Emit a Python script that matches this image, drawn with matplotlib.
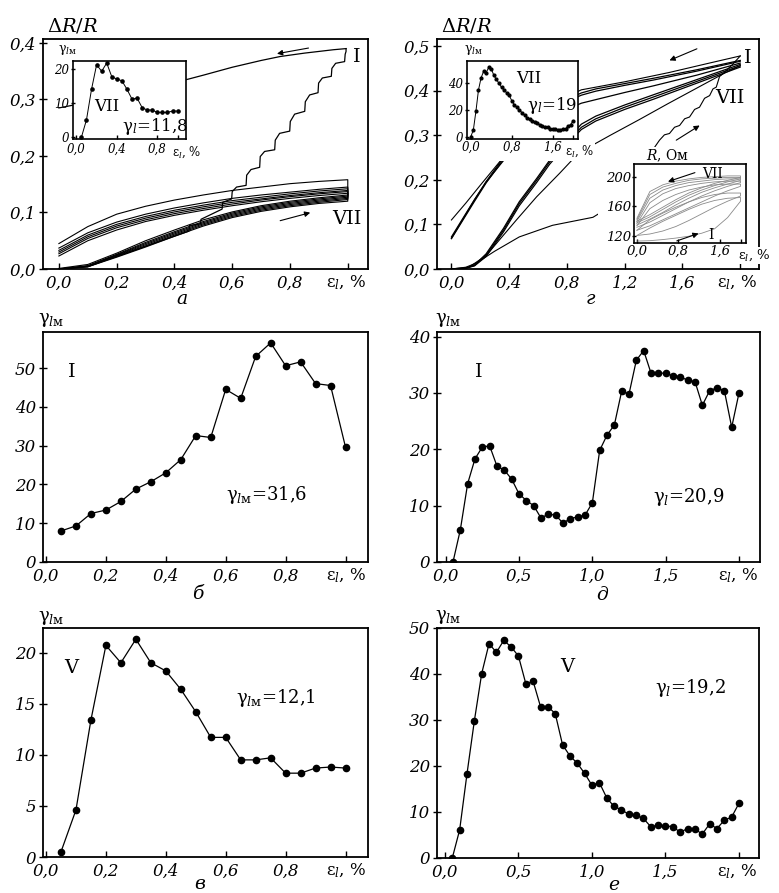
import matplotlib
matplotlib.use('Agg')
import matplotlib.pyplot as plt
from matplotlib.patches import Rectangle

plt.rcParams['font.family'] = ['DejaVu Serif']
plt.rcParams['mathtext.fontset'] = 'dejavuserif'

# ---------------- data ----------------
# strain steps, %
strain_1 = [0.05, 0.10, 0.15, 0.20, 0.25, 0.30, 0.35, 0.40, 0.45, 0.50,
            0.55, 0.60, 0.65, 0.70, 0.75, 0.80, 0.85, 0.90, 0.95, 1.00]
strain_2 = [0.05, 0.10, 0.15, 0.20, 0.25, 0.30, 0.35, 0.40, 0.45, 0.50,
            0.55, 0.60, 0.65, 0.70, 0.75, 0.80, 0.85, 0.90, 0.95, 1.00,
            1.05, 1.10, 1.15, 1.20, 1.25, 1.30, 1.35, 1.40, 1.45, 1.50,
            1.55, 1.60, 1.65, 1.70, 1.75, 1.80, 1.85, 1.90, 1.95, 2.00]

# б: cycle I, max strain 1 %
gamma_b = [8.0, 9.3, 12.5, 13.4, 15.6, 18.8, 20.7, 23.0, 26.4, 32.6,
           32.1, 44.5, 42.2, 53.0, 56.5, 50.6, 51.6, 46.0, 45.5, 29.6]
# в: cycle V, max strain 1 %
gamma_v = [0.5, 4.6, 13.4, 20.7, 19.0, 21.3, 19.0, 18.2, 16.4, 14.2,
           11.7, 11.7, 9.5, 9.5, 9.7, 8.2, 8.2, 8.7, 8.8, 8.7]
# inset of а: cycle VII, max strain 1 %
gamma_a_ins = [0.0, 5.1, 14.1, 21.3, 19.4, 21.8, 17.8, 17.1, 16.6, 14.1,
               11.2, 11.5, 8.7, 8.0, 8.0, 7.3, 7.3, 7.3, 7.7, 7.7]
# д: cycle I, max strain 2 %
gamma_d = [0.0, 5.7, 13.9, 18.3, 20.4, 20.6, 17.0, 16.3, 14.7, 12.1,
           10.9, 10.0, 7.8, 8.5, 8.3, 6.9, 7.7, 8.0, 8.3, 10.5,
           19.8, 22.5, 24.3, 30.3, 29.8, 35.8, 37.5, 33.5, 33.5, 33.5,
           33.0, 32.9, 32.2, 32.0, 27.8, 30.4, 30.9, 30.4, 23.9, 30.0]
# е: cycle V, max strain 2 %
gamma_e = [0.0, 6.1, 18.3, 29.8, 40.1, 46.6, 44.7, 47.3, 45.9, 43.9,
           37.9, 38.4, 32.9, 32.9, 31.4, 24.6, 22.2, 20.6, 18.4, 15.8,
           16.4, 13.1, 11.2, 10.5, 9.5, 9.3, 8.6, 6.8, 7.1, 7.0,
           6.8, 5.6, 6.4, 6.3, 5.2, 7.4, 6.4, 8.2, 8.9, 11.9]
# inset of г: cycle VII, max strain 2 %
strain_g_ins = [0.0] + strain_2
gamma_g_ins = [0, 5, 19, 35, 44, 49, 48, 52, 51, 46, 43, 40, 37, 35, 33, 31, 27,
               24, 22, 20, 18, 16, 14, 13, 12, 11, 10, 9, 8, 7, 7, 6, 6, 6, 5,
               5, 6, 6, 8, 9, 12]

# а: dR/R loops, max strain 1 %
xa = [0.0, 0.1, 0.2, 0.3, 0.4, 0.5, 0.6, 0.7, 0.8, 0.9, 1.0]
a_load = [
    [0.000, 0.004, 0.022, 0.040, 0.058, 0.076, 0.091, 0.102, 0.110, 0.116, 0.120],
    [0.000, 0.004, 0.023, 0.041, 0.060, 0.078, 0.093, 0.104, 0.112, 0.118, 0.123],
    [0.000, 0.005, 0.024, 0.043, 0.062, 0.080, 0.095, 0.106, 0.114, 0.120, 0.125],
    [0.000, 0.005, 0.025, 0.045, 0.064, 0.082, 0.097, 0.108, 0.116, 0.122, 0.127],
    [0.000, 0.006, 0.026, 0.047, 0.066, 0.084, 0.099, 0.110, 0.118, 0.124, 0.129],
    [0.001, 0.008, 0.028, 0.050, 0.069, 0.087, 0.101, 0.112, 0.120, 0.126, 0.131],
]
a_unload = [
    [0.045, 0.075, 0.097, 0.111, 0.122, 0.131, 0.139, 0.145, 0.151, 0.155, 0.158],
    [0.037, 0.064, 0.083, 0.097, 0.108, 0.117, 0.125, 0.131, 0.136, 0.141, 0.145],
    [0.033, 0.060, 0.079, 0.093, 0.104, 0.113, 0.121, 0.127, 0.133, 0.138, 0.142],
    [0.030, 0.057, 0.076, 0.090, 0.101, 0.110, 0.118, 0.124, 0.130, 0.135, 0.139],
    [0.027, 0.054, 0.073, 0.087, 0.098, 0.107, 0.115, 0.122, 0.128, 0.133, 0.137],
    [0.023, 0.050, 0.069, 0.084, 0.095, 0.104, 0.112, 0.119, 0.125, 0.130, 0.134],
]
aI_load_x = [0.0, 0.1, 0.2, 0.3, 0.4, 0.45, 0.452, 0.49, 0.492, 0.565, 0.567, 0.598, 0.600,
             0.615, 0.648, 0.650, 0.665, 0.695, 0.697, 0.712, 0.747, 0.749, 0.764, 0.799,
             0.801, 0.816, 0.851, 0.853, 0.868, 0.897, 0.899, 0.912, 0.943, 0.945, 0.958,
             0.989, 0.991, 0.994, 0.994]
aI_load_y = [0.0, 0.004, 0.021, 0.039, 0.058, 0.067, 0.077, 0.080, 0.088, 0.106, 0.118, 0.124, 0.137,
             0.145, 0.148, 0.166, 0.176, 0.180, 0.199, 0.208, 0.211, 0.228, 0.240, 0.244,
             0.261, 0.274, 0.279, 0.296, 0.308, 0.312, 0.329, 0.338, 0.341, 0.355, 0.364,
             0.367, 0.380, 0.385, 0.390]
aI_unload_x = [0.994, 0.95, 0.90, 0.85, 0.766, 0.70, 0.60, 0.50, 0.448, 0.30, 0.15, 0.0]
aI_unload_y = [0.390, 0.388, 0.385, 0.382, 0.376, 0.369, 0.357, 0.343, 0.336, 0.318, 0.300, 0.285]

# г: dR/R loops, max strain 2 %
xg = [0.0, 0.08, 0.16, 0.24, 0.36, 0.47, 0.59, 0.68, 0.80, 0.90, 1.00, 1.20, 1.40, 1.70, 2.00]
g_load = [
    [0.0, 0.0, 0.008, 0.031, 0.087, 0.147, 0.199, 0.240, 0.285, 0.318, 0.337, 0.363, 0.386, 0.421, 0.456],
    [0.0, 0.0, 0.007, 0.028, 0.083, 0.142, 0.194, 0.235, 0.280, 0.313, 0.332, 0.358, 0.381, 0.417, 0.453],
    [0.0, 0.0, 0.009, 0.034, 0.091, 0.151, 0.203, 0.244, 0.290, 0.325, 0.343, 0.368, 0.391, 0.425, 0.459],
]
g_unload = [
    [0.069, 0.112, 0.155, 0.196, 0.250, 0.292, 0.332, 0.355, 0.380, 0.395, 0.404, 0.416, 0.428, 0.447, 0.468],
    [0.068, 0.110, 0.152, 0.193, 0.246, 0.288, 0.328, 0.351, 0.376, 0.390, 0.399, 0.412, 0.424, 0.444, 0.466],
    [0.072, 0.114, 0.156, 0.195, 0.243, 0.280, 0.316, 0.337, 0.358, 0.372, 0.380, 0.396, 0.411, 0.435, 0.462],
]
gI_load_x = [0.0, 0.1, 0.17, 0.3, 0.47, 0.7, 0.98, 1.1, 1.25, 1.441, 1.475, 1.51, 1.545, 1.58,
             1.615, 1.649, 1.684, 1.718, 1.753, 1.788, 1.811, 1.834, 1.857, 1.88, 1.95, 2.0]
gI_load_y = [0.0, 0.004, 0.013, 0.040, 0.072, 0.098, 0.116, 0.14, 0.20, 0.289, 0.301, 0.304, 0.318, 0.322,
             0.337, 0.341, 0.358, 0.363, 0.383, 0.389, 0.404, 0.408, 0.432, 0.438, 0.46, 0.478]
gI_unload_x = [2.0, 1.8, 1.51, 1.2, 0.9, 0.7, 0.5, 0.34, 0.2, 0.1, 0.0]
gI_unload_y = [0.478, 0.463, 0.441, 0.420, 0.402, 0.372, 0.322, 0.243, 0.188, 0.148, 0.110]
gII_load_x = [0.0, 0.12, 0.24, 0.35, 0.45, 0.59, 0.75, 0.866, 0.956, 1.1, 1.3, 1.5, 1.7, 1.9, 2.0]
gII_load_y = [0.0, 0.004, 0.030, 0.072, 0.110, 0.162, 0.215, 0.255, 0.274, 0.300, 0.335, 0.371, 0.406, 0.441, 0.456]

# inset of г: R, Ohm loops (cycles I..VII)
xr = [0.0, 0.25, 0.5, 0.75, 1.0, 1.25, 1.5, 1.75, 2.0]
r_load = [
    [113.5, 114, 115.5, 117.5, 120, 124, 130, 145, 167],
    [121, 123, 127, 133, 141, 150, 159, 167, 174],
    [128, 134, 142, 150, 158, 166, 174, 181, 187],
    [132, 139, 148, 157, 166, 174, 181, 187, 192],
    [135, 143, 152, 162, 171, 179, 185, 190, 195],
    [138, 146, 156, 166, 175, 182, 188, 193, 197],
    [140, 149, 159, 169, 178, 185, 191, 195, 199],
]
r_unload = [  # listed from strain 0 to 2
    [121, 131, 140, 148, 156, 163, 168, 171, 172],
    [128, 142, 151, 159, 166, 172, 176, 178, 178],
    [134, 157, 168, 176, 182, 186, 189, 190, 190],
    [137, 165, 177, 184, 188, 191, 193, 194, 194],
    [140, 171, 182, 188, 192, 194, 196, 197, 197],
    [142, 176, 186, 191, 195, 197, 198, 199, 199],
    [144, 180, 189, 194, 197, 199, 200, 201, 201],
]

# ---------------- figure ----------------
W, H = 779, 893
fig = plt.figure(figsize=(W / 100, H / 100), dpi=100)


def px_rect(left, top, right, bottom):
    return [left / W, 1 - bottom / H, (right - left) / W, (bottom - top) / H]


def white_box(left, top, right, bottom):
    fig.add_artist(Rectangle((left / W, 1 - bottom / H), (right - left) / W, (bottom - top) / H,
                             transform=fig.transFigure, facecolor='white', edgecolor='none',
                             zorder=4))


def style(ax, xlim, ylim, xt, xl, yt, yl, size=12, xpad=4, ypad=2, lw=1.3):
    ax.set_xlim(*xlim)
    ax.set_ylim(*ylim)
    ax.set_xticks(xt)
    ax.set_xticklabels(xl, fontstyle='italic', fontsize=size)
    ax.set_yticks(yt)
    ax.set_yticklabels(yl, fontstyle='italic', fontsize=size)
    ax.tick_params(axis='x', direction='in', length=4, width=1, pad=xpad)
    ax.tick_params(axis='y', direction='inout', length=6, width=1, pad=ypad)
    for s in ax.spines.values():
        s.set_linewidth(lw)


def strain_label(ax, x=0.995, y=-0.06, size=12, ha='right', **kw):
    ax.text(x, y, 'ε$_l$, %', transform=ax.transAxes, ha=ha, va='center',
            fontsize=size, **kw)


def arrow(ax, tail, head):
    ax.annotate('', xy=head, xytext=tail,
                arrowprops=dict(arrowstyle='-|>', color='k', lw=0.8, mutation_scale=8,
                                shrinkA=0, shrinkB=0))


GL = r'γ$_{l\mathrm{м}}$'
WHITE = dict(facecolor='white', edgecolor='none', pad=0.5)

# ---- а ----
ax_a = fig.add_axes(px_rect(43, 39, 368, 269))
for ld, ul in zip(a_load, a_unload):
    ax_a.plot(xa + xa[::-1], ld + ul[::-1], color='k', lw=0.8)
ax_a.plot(aI_load_x, aI_load_y, color='k', lw=0.9)
ax_a.plot(aI_unload_x, aI_unload_y, color='k', lw=0.9)
arrow(ax_a, (0.864, 0.391), (0.755, 0.381))
arrow(ax_a, (0.766, 0.0855), (0.870, 0.0997))
ax_a.text(1.032, 0.376, 'I', fontsize=14, ha='center', va='center')
ax_a.text(0.997, 0.088, 'VII', fontsize=14, ha='center', va='center')
style(ax_a, (-0.055, 1.07), (0, 0.407), [0, 0.2, 0.4, 0.6, 0.8, 1.0],
      ['0,0', '0,2', '0,4', '0,6', '0,8', ''], [0, 0.1, 0.2, 0.3, 0.4],
      ['0,0', '0,1', '0,2', '0,3', '0,4'])
strain_label(ax_a)
ax_a.text(0.092, 1.057, r'$\Delta R/R$', transform=ax_a.transAxes, ha='center', va='center',
          fontsize=14)

ia = fig.add_axes(px_rect(73.3, 60.7, 185.7, 139.3), zorder=5)
ia.plot(strain_1, gamma_a_ins, color='k', lw=0.7, marker='o', ms=2.3)
style(ia, (-0.03, 1.08), (-0.6, 22.5), [0, 0.4, 0.8, 1.0], ['0,0', '0,4', '0,8', ''],
      [0, 10, 20], ['0', '10', '20'], size=8.5, xpad=2.5, ypad=1.5, lw=1.2)
ia.tick_params(length=3)
strain_label(ia, x=0.88, y=-0.17, size=8.5, ha='left')
ia.text(0.297, 0.415, 'VII', transform=ia.transAxes, fontsize=12, ha='center', va='center')
ia.text(0.73, 0.157, 'γ$_l$=11,8', transform=ia.transAxes, fontsize=12, ha='center',
        va='center')
ia.text(-0.05, 1.136, GL, transform=ia.transAxes, fontsize=9, ha='center', va='center')

# ---- г ----
ax_g = fig.add_axes(px_rect(437, 39, 759, 269))
for ld, ul in zip(g_load, g_unload):
    ax_g.plot(xg, ld, color='k', lw=0.9)
    ax_g.plot(xg, ul, color='k', lw=0.9)
ax_g.plot(gI_load_x, gI_load_y, color='k', lw=0.8)
ax_g.plot(gI_unload_x, gI_unload_y, color='k', lw=0.8)
ax_g.plot(gII_load_x, gII_load_y, color='k', lw=0.8)
arrow(ax_g, (1.70, 0.494), (1.51, 0.468))
arrow(ax_g, (1.557, 0.289), (1.719, 0.322))
ax_g.text(2.05, 0.474, 'I', fontsize=14, ha='center', va='center')
ax_g.text(1.93, 0.383, 'VII', fontsize=14, ha='center', va='center')
style(ax_g, (-0.1, 2.13), (0, 0.516), [0, 0.4, 0.8, 1.2, 1.6, 2.0],
      ['0,0', '0,4', '0,8', '1,2', '1,6', ''], [0, 0.1, 0.2, 0.3, 0.4, 0.5],
      ['0,0', '0,1', '0,2', '0,3', '0,4', '0,5'])
strain_label(ax_g)
ax_g.text(0.093, 1.057, r'$\Delta R/R$', transform=ax_g.transAxes, ha='center', va='center',
          fontsize=14)

white_box(462, 139, 580, 161)
ig = fig.add_axes(px_rect(466.7, 60.7, 578.3, 139.3), zorder=5)
ig.plot(strain_g_ins, gamma_g_ins, color='k', lw=0.7, marker='o', ms=2.0)
style(ig, (-0.08, 2.1), (-2, 57), [0, 0.8, 1.6, 2.0], ['0,0', '0,8', '1,6', ''],
      [0, 20, 40], ['0', '20', '40'], size=8.5, xpad=1, ypad=1, lw=1.2)
ig.tick_params(length=3)
strain_label(ig, x=0.88, y=-0.15, size=8.5, ha='left', bbox=WHITE)
ig.text(0.552, 0.776, 'VII', transform=ig.transAxes, fontsize=12, ha='center', va='center')
ig.text(0.769, 0.436, 'γ$_l$=19', transform=ig.transAxes, fontsize=12, ha='center',
        va='center')
ig.text(0.056, 1.136, GL, transform=ig.transAxes, fontsize=9, ha='center', va='center')

white_box(598, 160, 634, 262)
white_box(634, 147, 700, 164)
ir = fig.add_axes(px_rect(634.3, 164, 745.7, 243.3), zorder=5)
for ld, ul in zip(r_load, r_unload):
    ir.plot(xr + xr[::-1], ld + ul[::-1], color='#8a8a8a', lw=0.6)
arrow(ir, (1.12, 205.4), (0.6, 193.3))
arrow(ir, (0.77, 113.7), (1.19, 123.7))
ir.text(1.46, 203, 'VII', fontsize=10, ha='center', va='center')
ir.text(1.43, 121, 'I', fontsize=10, ha='center', va='center')
style(ir, (-0.05, 2.1), (110.5, 217), [0, 0.8, 1.6, 2.0], ['0,0', '0,8', '1,6', ''],
      [120, 160, 200], ['120', '160', '200'], size=9.5, xpad=1, ypad=1, lw=1.2)
ir.tick_params(length=3)
strain_label(ir, x=0.93, y=-0.15, size=9.5, ha='left', bbox=WHITE)
ir.text(0.295, 1.10, r'$R$, Ом', transform=ir.transAxes, fontsize=10, ha='center',
        va='center')

# ---- б ----
ax_b = fig.add_axes(px_rect(43, 332, 368, 562))
ax_b.plot(strain_1, gamma_b, color='k', lw=0.9, marker='o', ms=4.5)
style(ax_b, (-0.01, 1.075), (0, 59.3), [0, 0.2, 0.4, 0.6, 0.8, 1.0],
      ['0,0', '0,2', '0,4', '0,6', '0,8', ''], [0, 10, 20, 30, 40, 50],
      ['0', '10', '20', '30', '40', '50'])
strain_label(ax_b)
ax_b.text(0.088, 0.827, 'I', transform=ax_b.transAxes, fontsize=14, ha='center', va='center')
ax_b.text(0.689, 0.291, GL + '=31,6', transform=ax_b.transAxes, fontsize=13, ha='center',
          va='center')
ax_b.text(0.025, 1.052, GL, transform=ax_b.transAxes, fontsize=13, ha='center', va='center')

# ---- д ----
ax_d = fig.add_axes(px_rect(437, 332, 760, 562))
ax_d.plot(strain_2, gamma_d, color='k', lw=0.9, marker='o', ms=4.5)
style(ax_d, (-0.059, 2.143), (0, 40.8), [0, 0.5, 1.0, 1.5, 2.0],
      ['0,0', '0,5', '1,0', '1,5', ''], [0, 10, 20, 30, 40], ['0', '10', '20', '30', '40'])
strain_label(ax_d)
ax_d.text(0.128, 0.827, 'I', transform=ax_d.transAxes, fontsize=14, ha='center', va='center')
ax_d.text(0.78, 0.283, 'γ$_l$=20,9', transform=ax_d.transAxes, fontsize=13, ha='center',
          va='center')
ax_d.text(0.035, 1.052, GL, transform=ax_d.transAxes, fontsize=13, ha='center', va='center')

# ---- в ----
ax_v = fig.add_axes(px_rect(43, 628, 368, 857))
ax_v.plot(strain_1, gamma_v, color='k', lw=0.9, marker='o', ms=4.5)
style(ax_v, (-0.01, 1.075), (0, 22.4), [0, 0.2, 0.4, 0.6, 0.8, 1.0],
      ['0,0', '0,2', '0,4', '0,6', '0,8', ''], [0, 5, 10, 15, 20], ['0', '5', '10', '15', '20'])
strain_label(ax_v)
ax_v.text(0.088, 0.824, 'V', transform=ax_v.transAxes, fontsize=14, ha='center', va='center')
ax_v.text(0.717, 0.694, GL + '=12,1', transform=ax_v.transAxes, fontsize=13, ha='center',
          va='center')
ax_v.text(0.025, 1.044, GL, transform=ax_v.transAxes, fontsize=13, ha='center', va='center')

# ---- е ----
ax_e = fig.add_axes(px_rect(437, 628, 759, 858))
ax_e.plot(strain_2, gamma_e, color='k', lw=0.9, marker='o', ms=4.5)
style(ax_e, (-0.054, 2.136), (0, 50), [0, 0.5, 1.0, 1.5, 2.0],
      ['0,0', '0,5', '1,0', '1,5', ''], [0, 10, 20, 30, 40, 50],
      ['0', '10', '20', '30', '40', '50'])
strain_label(ax_e)
ax_e.text(0.403, 0.832, 'V', transform=ax_e.transAxes, fontsize=14, ha='center', va='center')
ax_e.text(0.786, 0.739, 'γ$_l$=19,2', transform=ax_e.transAxes, fontsize=13, ha='center',
          va='center')
ax_e.text(0.035, 1.05, GL, transform=ax_e.transAxes, fontsize=13, ha='center', va='center')

# panel letters
for x, y, s in [(182, 290, 'а'), (590, 290, 'г'), (198, 585, 'б'), (602, 586, 'д'),
                (200, 875, 'в'), (614, 876, 'е')]:
    fig.text(x / W, 1 - y / H, s, ha='center', va='top', fontsize=13.5, fontstyle='italic')

fig.savefig('out.png', dpi=100, facecolor='white')
